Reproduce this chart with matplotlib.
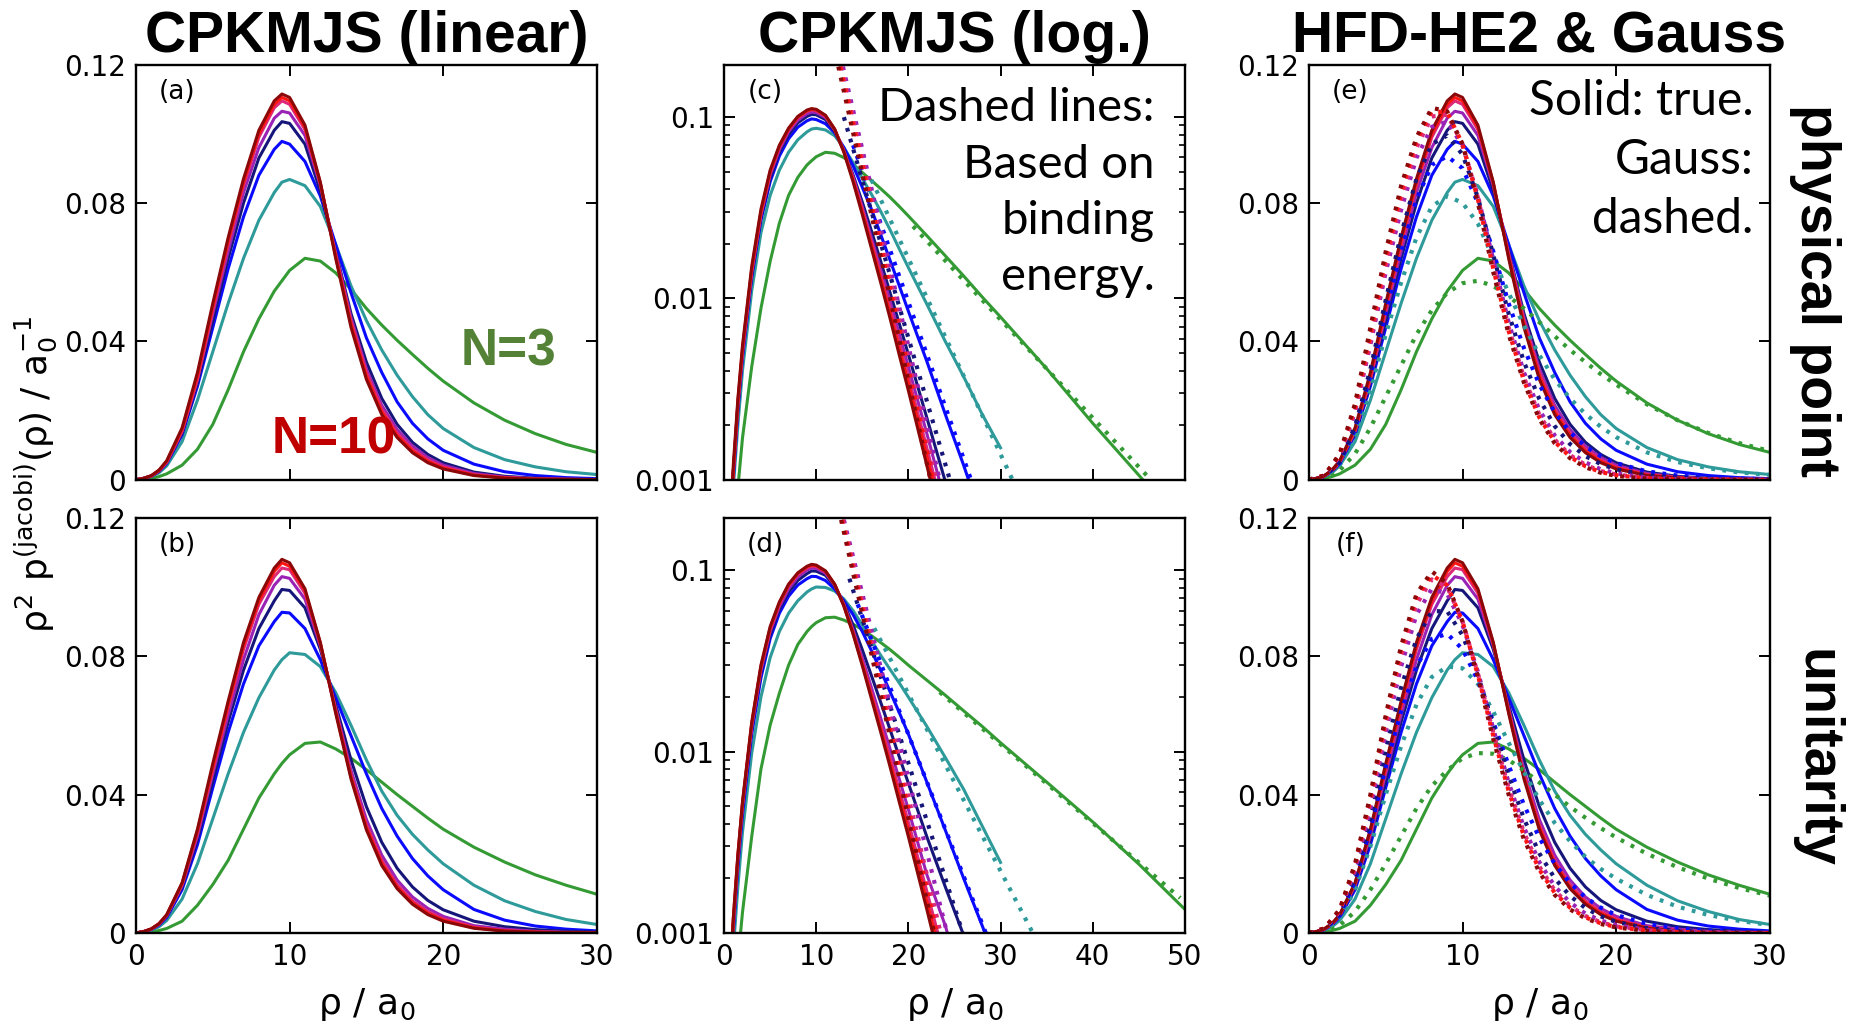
import matplotlib
matplotlib.use("Agg")
import matplotlib.pyplot as plt
from matplotlib.ticker import LogLocator, NullFormatter, NullLocator

plt.rcParams["font.family"] = "DejaVu Sans"
plt.rcParams["mathtext.fontset"] = "dejavusans"
plt.rcParams["mathtext.default"] = "regular"

# ---- data ----
n_values = [3, 4, 5, 6, 7, 8, 9, 10]
colors = ["#349a34", "#2e9a9a", "#0a0aff", "#16167a", "#9a22b5", "#dc2a78", "#ff1414", "#8b0808"]

rho = [0, 0.5, 1, 1.5, 2, 3, 4, 5, 6, 7, 8, 9, 9.5, 10, 11, 12, 13, 14, 15, 16, 17, 18, 19, 20, 22, 24, 26, 28, 30]
rho_n3 = rho + [35, 40, 45, 50]
rho_g = [0, 1, 2, 3, 4, 5, 6, 7, 8, 9, 10, 11, 12, 13, 14, 15, 16, 17, 18, 19, 20, 22, 24, 26, 28, 30]

# physical point, true distributions
phys_n3 = [0, .0001, .0004, .0009, .0017, .0042, .0088, .0160, .0260, .0370, .0465, .0545, .0575, .0605, .0640, .0632, .0598, .0550, .0495, .0447, .0403, .0362, .0322, .0285, .0222, .0172, .0133, .0102, .0079, .0041, .00205, .00106, .00054]
phys_n4 = [0, .0003, .0009, .0020, .0040, .0110, .0230, .0370, .0510, .0640, .0750, .0830, .0860, .0868, .0850, .0790, .0680, .0560, .0460, .0375, .0302, .0240, .0188, .0148, .0093, .0058, .0037, .0023, .0015]
phys_n5 = [0, .0004, .0010, .0024, .0047, .0130, .0270, .0440, .0610, .0760, .0880, .0955, .0978, .0970, .0920, .0820, .0680, .0540, .0410, .0310, .0225, .0163, .0118, .0085, .0045, .0023, .0012, .0006, .0003]
phys_n6 = [0, .0004, .0011, .0025, .0050, .0135, .0280, .0460, .0640, .0800, .0930, .1010, .1035, .1030, .0970, .0835, .0660, .0480, .0340, .0235, .0160, .0108, .0073, .0049, .0022, .00098, .00044, .0002, .00009]
phys_n7 = [0, .0004, .0011, .0026, .0050, .0140, .0290, .0480, .0660, .0830, .0960, .1045, .1065, .1060, .0995, .0850, .0655, .0468, .0320, .0215, .0145, .0097, .0064, .0042, .0018, .00075, .0003, .00013, .00005]
phys_n8 = [0, .0004, .0011, .0026, .0051, .0140, .0290, .0490, .0680, .0850, .0990, .1075, .1095, .1085, .1012, .0855, .0650, .0458, .0310, .0205, .0135, .0089, .0058, .0037, .0015, .0006, .00024, .0001, .00004]
phys_n9 = [0, .0004, .0011, .0027, .0053, .0145, .0300, .0500, .0690, .0860, .1000, .1085, .1105, .1095, .1018, .0858, .0645, .0450, .0300, .0196, .0128, .0083, .0053, .0034, .00135, .00052, .0002, .00008, .00003]
phys_n10 = [0, .0004, .0012, .0028, .0055, .0150, .0310, .0510, .0700, .0870, .1010, .1095, .1115, .1105, .1025, .0860, .0640, .0440, .0290, .0188, .0122, .0078, .0049, .0031, .0012, .00045, .00017, .00006, .00002]

# unitarity, true distributions
unit_n3 = [0, .0001, .0003, .0007, .0013, .0034, .0080, .0140, .0210, .0300, .0390, .0460, .0490, .0515, .0548, .0552, .0532, .0505, .0472, .0436, .0400, .0366, .0332, .0300, .0248, .0205, .0168, .0138, .0112, .0068, .0041, .0024, .00135]
unit_n4 = [0, .0003, .0008, .0018, .0036, .0098, .0200, .0330, .0460, .0580, .0680, .0760, .0790, .0810, .0805, .0770, .0695, .0600, .0500, .0410, .0340, .0285, .0240, .0200, .0138, .0093, .0062, .0039, .00245]
unit_n5 = [0, .0004, .0010, .0023, .0045, .0125, .0255, .0420, .0580, .0720, .0830, .0900, .0927, .0925, .0880, .0790, .0680, .0570, .0460, .0360, .0280, .0215, .0165, .0125, .0068, .0037, .0020, .0011, .0006]
unit_n6 = [0, .0004, .0011, .0025, .0049, .0133, .0270, .0440, .0610, .0760, .0880, .0960, .0993, .0990, .0940, .0820, .0660, .0500, .0365, .0262, .0187, .0133, .0094, .0067, .0034, .0018, .00097, .0005, .00026]
unit_n7 = [0, .0004, .0011, .0025, .0050, .0137, .0280, .0460, .0630, .0790, .0920, .1005, .1030, .1025, .0965, .0830, .0650, .0470, .0328, .0225, .0153, .0104, .0071, .0048, .0021, .0011, .00048, .0002, .00008]
unit_n8 = [0, .0004, .0011, .0026, .0051, .0140, .0290, .0470, .0650, .0820, .0950, .1030, .1055, .1050, .0982, .0835, .0643, .0458, .0313, .0210, .0140, .0093, .0062, .0041, .0017, .0007, .0003, .00012, .00005]
unit_n9 = [0, .0004, .0012, .0027, .0052, .0143, .0295, .0480, .0660, .0830, .0960, .1045, .1070, .1060, .0990, .0838, .0640, .0450, .0305, .0202, .0133, .0087, .0057, .0037, .0015, .0006, .00024, .0001, .00004]
unit_n10 = [0, .0004, .0012, .0027, .0053, .0145, .0300, .0490, .0670, .0840, .0970, .1055, .1080, .1070, .0995, .0840, .0635, .0445, .0298, .0195, .0128, .0083, .0053, .0034, .00135, .00052, .0002, .00008, .00003]

# Gaussian approximations (dashed in e, f)
gauss_phys_n3 = [0, .0005, .0027, .0075, .0150, .0240, .0330, .0420, .0490, .0540, .0568, .0575, .0560, .0530, .0495, .0455, .0415, .0375, .0340, .0305, .0275, .0218, .0172, .0135, .0106, .0083]
gauss_phys_n4 = [0, .0008, .0042, .0125, .0260, .0420, .0570, .0700, .0790, .0820, .0800, .0740, .0640, .0540, .0445, .0360, .0290, .0235, .0190, .0153, .0123, .0079, .0051, .0033, .0021, .0014]
gauss_phys_n5 = [0, .0009, .0048, .0145, .0300, .0480, .0660, .0810, .0910, .0935, .0900, .0800, .0660, .0510, .0380, .0275, .0195, .0137, .0096, .0068, .0048, .0024, .0012, .0006, .0003, .00015]
gauss_phys_n6 = [0, .0010, .0052, .0155, .0320, .0520, .0710, .0870, .0970, .0995, .0940, .0815, .0650, .0480, .0340, .0233, .0155, .0103, .0068, .0045, .0030, .0013, .0006, .0003, .0001, 0]
gauss_phys_n7 = [0, .0011, .0068, .0195, .0390, .0600, .0780, .0930, .1020, .1035, .0965, .0820, .0635, .0455, .0310, .0202, .0128, .0080, .0050, .0030, .0018, .0006, .0002, .0001, 0, 0]
gauss_phys_n8 = [0, .0011, .0070, .0200, .0400, .0620, .0810, .0960, .1050, .1055, .0970, .0815, .0625, .0440, .0295, .0188, .0116, .0071, .0043, .0025, .0015, .0005, .0001, 0, 0, 0]
gauss_phys_n9 = [0, .0012, .0072, .0210, .0420, .0640, .0830, .0980, .1065, .1062, .0970, .0810, .0610, .0430, .0285, .0180, .0110, .0066, .0039, .0022, .0013, .0004, .0001, 0, 0, 0]
gauss_phys_n10 = [0, .0012, .0075, .0220, .0440, .0660, .0850, .0990, .1075, .1065, .0970, .0800, .0600, .0420, .0280, .0175, .0105, .0062, .0036, .0020, .0011, .0003, .0001, 0, 0, 0]

gauss_unit_n3 = [0, .0004, .0022, .0062, .0125, .0200, .0280, .0360, .0425, .0470, .0505, .0520, .0518, .0500, .0470, .0435, .0400, .0365, .0333, .0303, .0276, .0229, .0190, .0157, .0130, .0108]
gauss_unit_n4 = [0, .0008, .0042, .0125, .0250, .0400, .0540, .0660, .0740, .0770, .0765, .0720, .0640, .0550, .0465, .0385, .0318, .0265, .0220, .0185, .0157, .0110, .0076, .0052, .0035, .0023]
gauss_unit_n5 = [0, .0010, .0050, .0150, .0300, .0480, .0640, .0770, .0850, .0865, .0820, .0730, .0610, .0485, .0370, .0275, .0200, .0144, .0103, .0073, .0052, .0026, .0013, .0007, .0004, .0002]
gauss_unit_n6 = [0, .0011, .0056, .0165, .0330, .0530, .0710, .0850, .0930, .0930, .0860, .0745, .0600, .0455, .0330, .0230, .0158, .0107, .0072, .0048, .0032, .0014, .0006, .0003, .0001, 0]
gauss_unit_n7 = [0, .0012, .0062, .0180, .0360, .0580, .0770, .0920, .0995, .0980, .0890, .0755, .0590, .0435, .0305, .0205, .0135, .0088, .0056, .0036, .0023, .0009, .0004, .0002, .0001, 0]
gauss_unit_n8 = [0, .0012, .0064, .0190, .0380, .0600, .0800, .0950, .1022, .1000, .0900, .0750, .0580, .0420, .0290, .0192, .0123, .0078, .0049, .0031, .0019, .0008, .0003, .0001, 0, 0]
gauss_unit_n9 = [0, .0013, .0066, .0195, .0390, .0620, .0820, .0970, .1035, .1005, .0900, .0745, .0570, .0410, .0280, .0183, .0116, .0073, .0045, .0028, .0017, .0007, .0003, .0001, 0, 0]
gauss_unit_n10 = [0, .0013, .0068, .0200, .0400, .0630, .0830, .0980, .1045, .1010, .0900, .0740, .0560, .0400, .0270, .0175, .0110, .0068, .0042, .0026, .0016, .0006, .0002, .0001, 0, 0]

# asymptotic tails from binding energy (dashed in c, d), N = 3..10
bind_phys_x = [[20.5, 46.3], [16.0, 31.3], [14.0, 26.8], [13.0, 24.5], [12.9, 23.4], [12.7, 23.0], [12.6, 22.7], [12.4, 22.4]]
bind_phys_y = [[0.025, 0.001], [0.045, 0.001], [0.07, 0.001], [0.10, 0.001], [0.19, 0.001], [0.19, 0.001], [0.19, 0.001], [0.19, 0.001]]
bind_unit_x = [[23.4, 49.5], [16.3, 33.5], [14.5, 28.4], [13.6, 25.9], [13.0, 24.2], [12.9, 23.5], [12.8, 23.1], [12.7, 22.8]]
bind_unit_y = [[0.0213, 0.00156], [0.048, 0.001], [0.065, 0.001], [0.09, 0.001], [0.19, 0.001], [0.19, 0.001], [0.19, 0.001], [0.19, 0.001]]

phys = [phys_n3, phys_n4, phys_n5, phys_n6, phys_n7, phys_n8, phys_n9, phys_n10]
unit = [unit_n3, unit_n4, unit_n5, unit_n6, unit_n7, unit_n8, unit_n9, unit_n10]
gauss_phys = [gauss_phys_n3, gauss_phys_n4, gauss_phys_n5, gauss_phys_n6, gauss_phys_n7, gauss_phys_n8, gauss_phys_n9, gauss_phys_n10]
gauss_unit = [gauss_unit_n3, gauss_unit_n4, gauss_unit_n5, gauss_unit_n6, gauss_unit_n7, gauss_unit_n8, gauss_unit_n9, gauss_unit_n10]

# ---- figure ----
fig = plt.figure(figsize=(18.58, 10.25), dpi=100)
W, H = 0.248, 0.405
lefts = [0.0732, 0.3897, 0.7045]
bottoms = [0.532, 0.0898]

LW = 2.2
DOT = dict(linestyle=(0, (0.9, 1.8)), linewidth=3.0)


def style(ax, log=False, xmax=30, xlabels=True):
    ax.set_xlim(0, xmax)
    ax.set_xticks(range(0, xmax + 1, 10))
    if not xlabels:
        ax.set_xticklabels([])
    if log:
        ax.set_yscale("log")
        ax.set_ylim(0.001, 0.195)
        ax.set_yticks([0.001, 0.01, 0.1])
        ax.set_yticklabels(["0.001", "0.01", "0.1"])
        ax.yaxis.set_minor_locator(LogLocator(base=10, subs=range(2, 10)))
        ax.yaxis.set_minor_formatter(NullFormatter())
        ax.xaxis.set_minor_locator(NullLocator())
        ax.tick_params(which="minor", direction="in", left=True, right=True, length=4.5, width=1.2)
    else:
        ax.set_ylim(0, 0.12)
        ax.set_yticks([0, 0.04, 0.08, 0.12])
        ax.set_yticklabels(["0", "0.04", "0.08", "0.12"])
    ax.tick_params(which="major", direction="in", top=True, right=True, length=8, width=1.4,
                   labelsize=20, pad=7)
    for s in ax.spines.values():
        s.set_linewidth(1.7)


def letter(ax, s):
    ax.text(0.09, 0.935, s, transform=ax.transAxes, ha="center", va="center", fontsize=19)


axes = {}
for r, b in enumerate(bottoms):
    for c, l in enumerate(lefts):
        axes[(r, c)] = fig.add_axes([l, b, W, H])

# linear CPKMJS panels
for r, data in enumerate([phys, unit]):
    ax = axes[(r, 0)]
    for i, y in enumerate(data):
        x = rho_n3 if i == 0 else rho
        ax.plot(x, y, color=colors[i], lw=LW)
    style(ax, xlabels=(r == 1))
    letter(ax, "(a)" if r == 0 else "(b)")

# log CPKMJS panels
for r, (data, bx, by) in enumerate([(phys, bind_phys_x, bind_phys_y), (unit, bind_unit_x, bind_unit_y)]):
    ax = axes[(r, 1)]
    for i, y in enumerate(data):
        x = rho_n3 if i == 0 else rho
        ax.plot(x, y, color=colors[i], lw=LW)
    for i in range(len(n_values)):
        ax.plot(bx[i], by[i], color=colors[i], **DOT)
    style(ax, log=True, xmax=50, xlabels=(r == 1))
    letter(ax, "(c)" if r == 0 else "(d)")

# HFD-HE2 & Gauss panels
for r, (data, gdata) in enumerate([(phys, gauss_phys), (unit, gauss_unit)]):
    ax = axes[(r, 2)]
    for i, y in enumerate(data):
        x = rho_n3 if i == 0 else rho
        ax.plot(x, y, color=colors[i], lw=LW)
    for i, y in enumerate(gdata):
        ax.plot(rho_g, y, color=colors[i], **DOT)
    style(ax, xlabels=(r == 1))
    letter(ax, "(e)" if r == 0 else "(f)")

# annotations
ax = axes[(0, 0)]
ax.text(0.808, 0.307, "N=3", transform=ax.transAxes, ha="center", va="center",
        fontsize=37, fontweight="bold", color="#538135", family="Liberation Sans")
ax.text(0.43, 0.096, "N=10", transform=ax.transAxes, ha="center", va="center",
        fontsize=37, fontweight="bold", color="#c00000", family="Liberation Sans")

axes[(0, 1)].text(0.935, 0.945, "Dashed lines:\nBased on\nbinding\nenergy.",
                  transform=axes[(0, 1)].transAxes, ha="right", va="top",
                  fontsize=34, family="Lato", linespacing=1.42)
axes[(0, 2)].text(0.965, 0.965, "Solid: true.\nGauss:\ndashed.",
                  transform=axes[(0, 2)].transAxes, ha="right", va="top",
                  fontsize=34.5, family="Lato", linespacing=1.42)

titles = ["CPKMJS (linear)", "CPKMJS (log.)", "HFD-HE2 & Gauss"]
for c, t in enumerate(titles):
    fig.text(lefts[c] + W / 2, 0.949, t, ha="center", va="baseline", fontsize=41,
             fontweight="bold", family="Liberation Sans")

fig.text(0.977, 0.717, "physical point", rotation=270, ha="center", va="center",
         fontsize=40, fontweight="bold", family="Liberation Sans")
fig.text(0.977, 0.26, "unitarity", rotation=270, ha="center", va="center",
         fontsize=40, fontweight="bold", family="Liberation Sans")

fig.text(0.019, 0.537, r"$\rho^2\ p^{(jacobi)}(\rho)\ /\ a_0^{-1}$", rotation=90,
         ha="center", va="center", fontsize=26)
for c in range(3):
    fig.text(lefts[c] + W / 2, 0.02, r"$\rho\ /\ a_0$", ha="center", va="center", fontsize=26)

fig.savefig("out.png", dpi=100)
